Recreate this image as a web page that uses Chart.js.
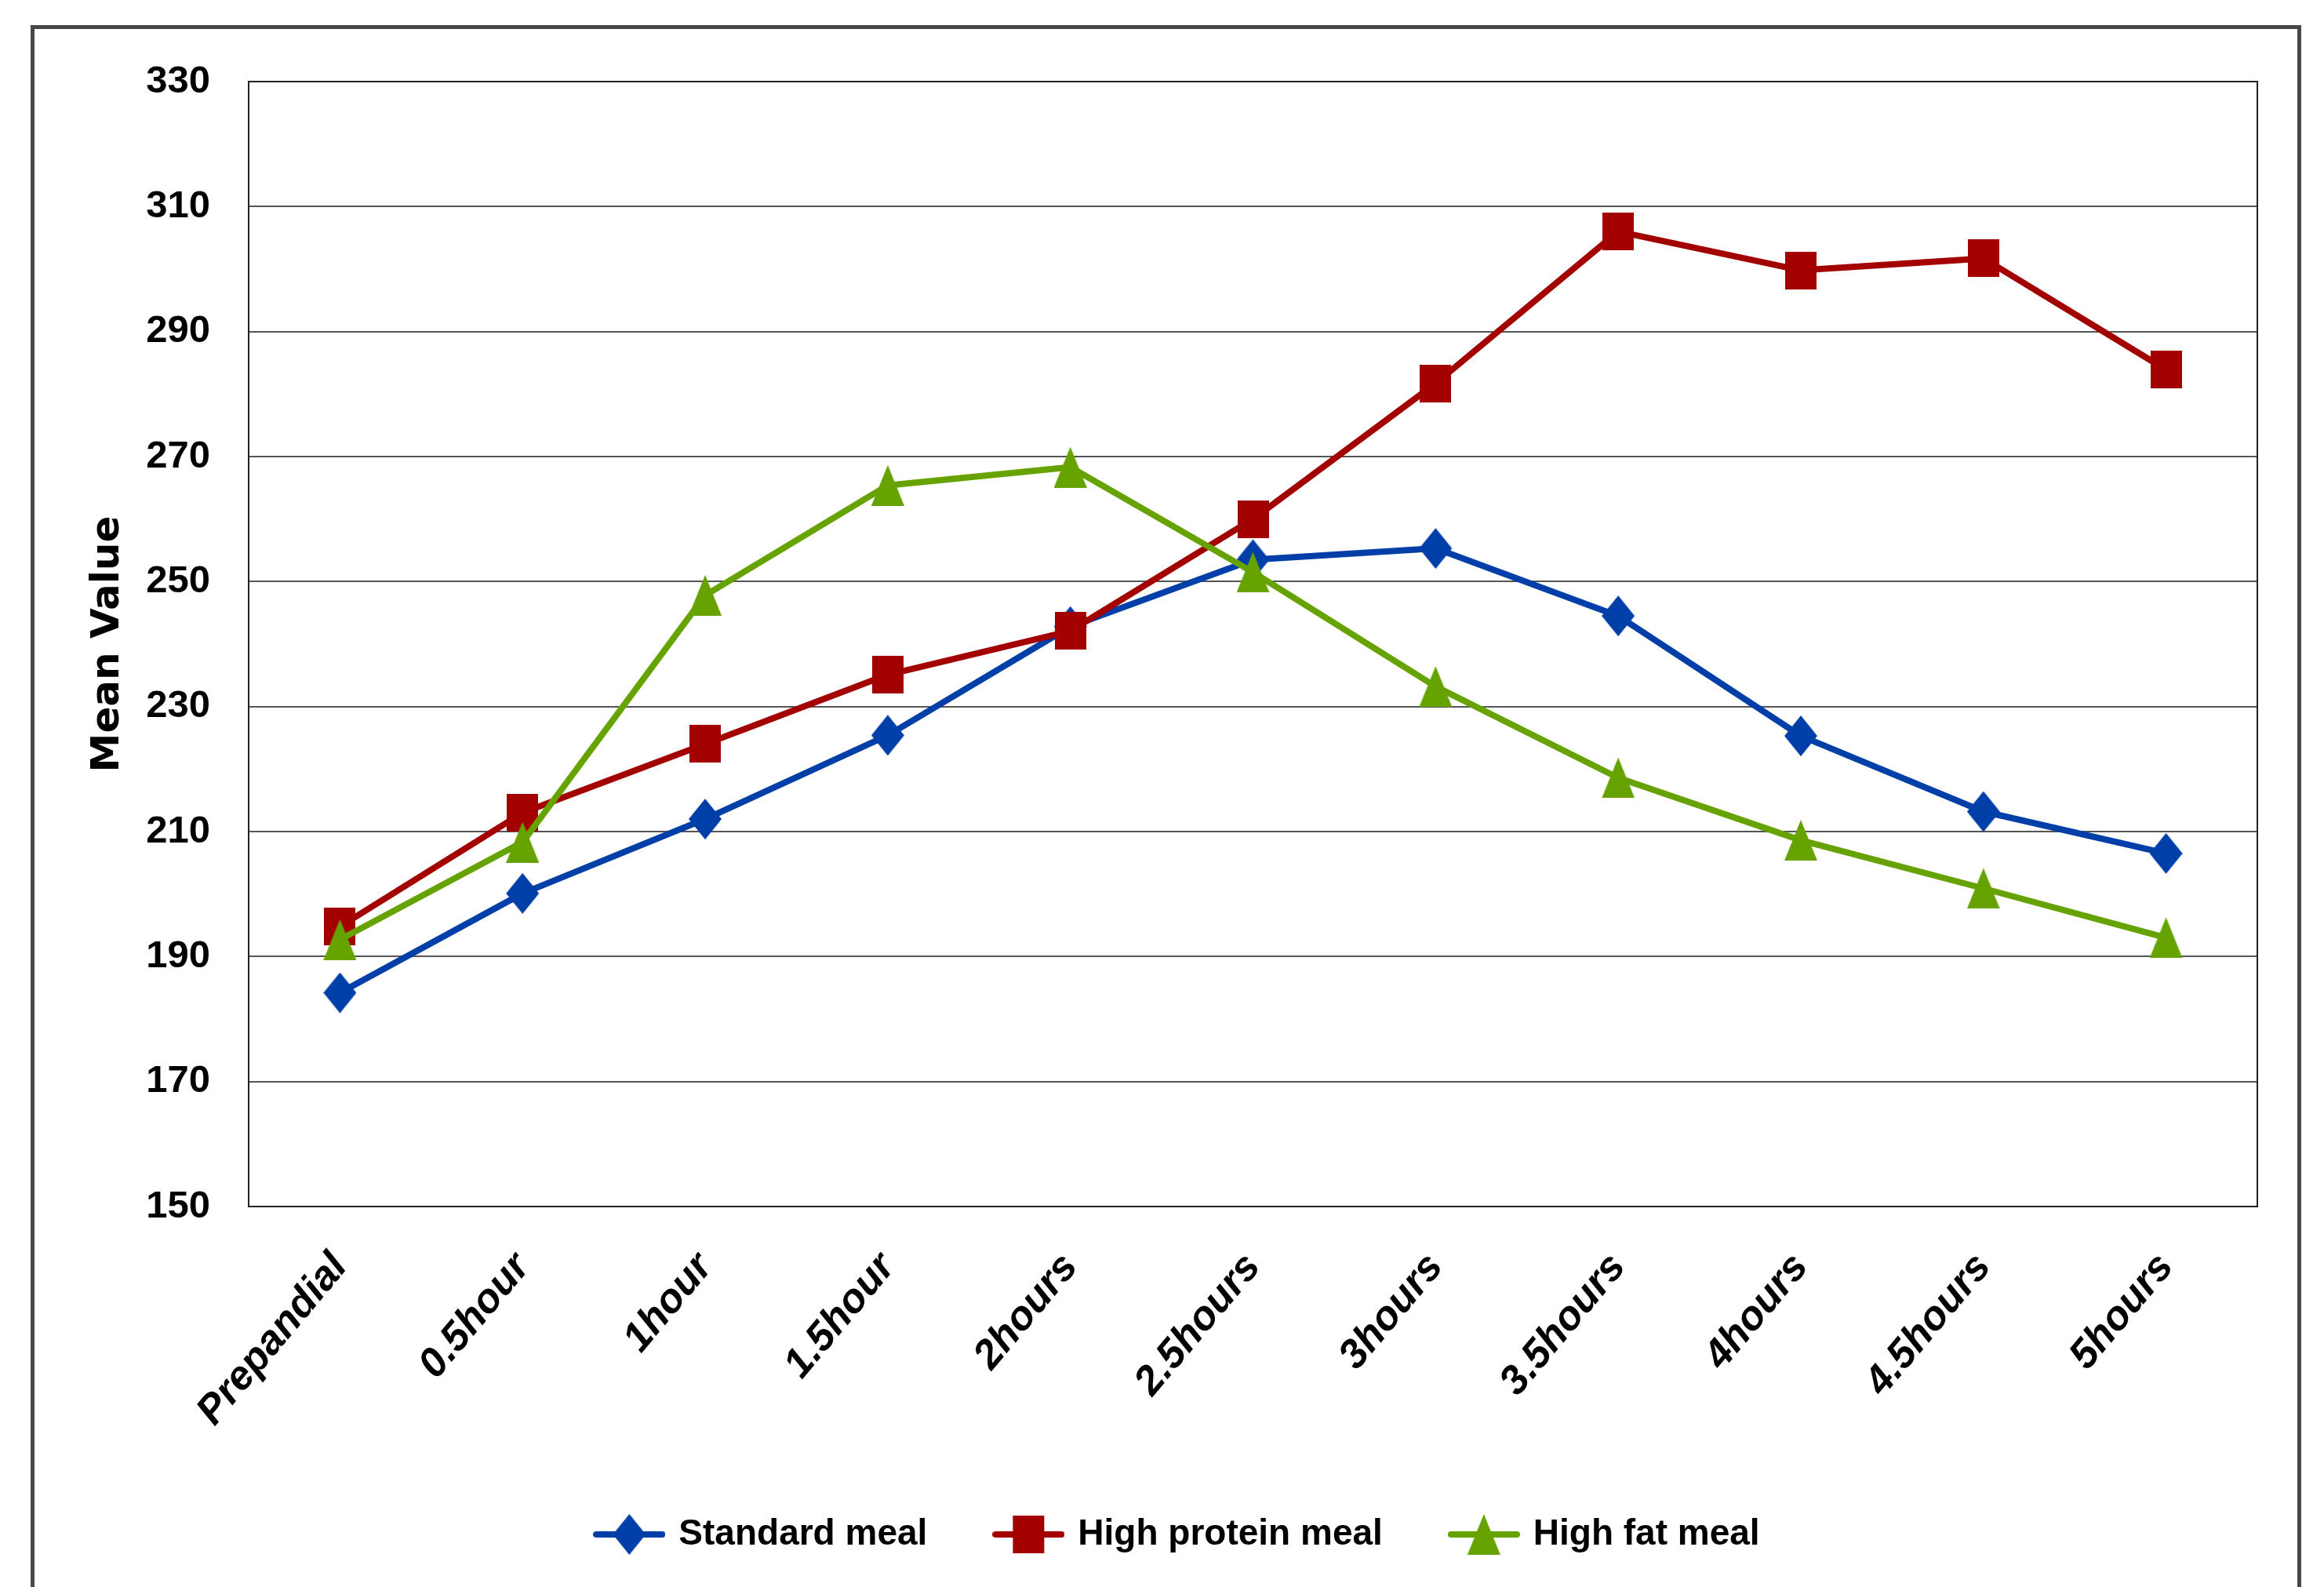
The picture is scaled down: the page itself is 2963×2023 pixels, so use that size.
<!DOCTYPE html>
<html>
<head>
<meta charset="utf-8">
<title>Mean Value by meal type</title>
<script src="https://cdn.jsdelivr.net/npm/chart.js@4.4.1/dist/chart.umd.min.js"></script>
<style>
  html, body { margin: 0; padding: 0; background: #ffffff; }
  #wrap { position: absolute; left: 0; top: 0; width: 2963px; height: 2023px; }
</style>
</head>
<body>
<div id="wrap"><canvas id="chart" width="2963" height="2023"></canvas></div>
<script>
// Time points after the meal
const categories = ['Prepandial', '0.5hour', '1hour', '1.5hour', '2hours', '2.5hours',
                    '3hours', '3.5hours', '4hours', '4.5hours', '5hours'];

// Mean values per meal type
const standardMeal    = [184.2, 200.1, 212.0, 225.4, 242.8, 253.5, 255.3, 244.5, 225.3, 213.2, 206.5];
const highProteinMeal = [194.8, 213.0, 224.0, 235.1, 242.1, 260.0, 281.7, 306.0, 299.8, 301.7, 283.9];
const highFatMeal     = [192.7, 208.3, 247.8, 265.4, 268.3, 251.5, 233.2, 218.6, 208.6, 200.9, 193.0];

const seriesNames = ['Standard meal', 'High protein meal', 'High fat meal'];
const yTicks = [150, 170, 190, 210, 230, 250, 270, 290, 310, 330];

const BLUE = '#003ea8';
const RED = '#a30000';
const GREEN = '#66a300';

// Marker glyphs drawn once onto small canvases
function makeMarker(shape, color, w, h) {
  const c = document.createElement('canvas');
  c.width = w; c.height = h;
  const g = c.getContext('2d');
  g.fillStyle = color;
  g.beginPath();
  if (shape === 'diamond') {
    g.moveTo(w / 2, 0); g.lineTo(w, h / 2); g.lineTo(w / 2, h); g.lineTo(0, h / 2);
  } else if (shape === 'square') {
    g.rect(0, 0, w, h);
  } else {
    g.moveTo(w / 2, 0); g.lineTo(w, h); g.lineTo(0, h);
  }
  g.closePath();
  g.fill();
  return c;
}

// Legend key: a short line segment with the marker in its middle
function makeLegendKey(marker, color, w, h) {
  const c = document.createElement('canvas');
  c.width = w; c.height = h;
  const g = c.getContext('2d');
  g.strokeStyle = color;
  g.lineWidth = 8;
  g.lineCap = 'round';
  g.beginPath();
  g.moveTo(4, h / 2); g.lineTo(w - 4, h / 2);
  g.stroke();
  g.drawImage(marker, (w - marker.width) / 2, (h - marker.height) / 2);
  return c;
}

const diamond = makeMarker('diamond', BLUE, 42, 52);
const square = makeMarker('square', RED, 40, 48);
const triangle = makeMarker('triangle', GREEN, 42, 52);
const legendKeys = [
  makeLegendKey(diamond, BLUE, 92, 52),
  makeLegendKey(square, RED, 92, 52),
  makeLegendKey(triangle, GREEN, 92, 52)
];

const TEXT_FONT = 'Liberation Sans, Arial, sans-serif';

// White page, outer frame and the plot-area rectangle
const framePlugin = {
  id: 'frame',
  beforeDraw(chart) {
    const g = chart.ctx;
    g.save();
    g.fillStyle = '#ffffff';
    g.fillRect(0, 0, chart.width, chart.height);
    g.strokeStyle = '#484848';
    g.lineWidth = 5;
    g.strokeRect(41.5, 34.5, chart.width - 73, chart.height + 100);
    g.restore();
  },
  beforeDatasetsDraw(chart) {
    const a = chart.chartArea;
    const g = chart.ctx;
    g.save();
    g.strokeStyle = '#222222';
    g.lineWidth = 2;
    g.strokeRect(a.left, a.top, a.right - a.left, a.bottom - a.top);
    g.restore();
  }
};

function lineDataset(label, data, color, marker, order) {
  return {
    label: label,
    data: data,
    borderColor: color,
    backgroundColor: color,
    borderWidth: 8,
    borderJoinStyle: 'round',
    borderCapStyle: 'round',
    tension: 0,
    pointStyle: marker,
    pointRadius: 26,
    pointHoverRadius: 26,
    order: order
  };
}

new Chart(document.getElementById('chart'), {
  type: 'line',
  data: {
    labels: categories,
    datasets: [
      lineDataset(seriesNames[0], standardMeal, BLUE, diamond, 2),
      lineDataset(seriesNames[1], highProteinMeal, RED, square, 1),
      lineDataset(seriesNames[2], highFatMeal, GREEN, triangle, 0)
    ]
  },
  options: {
    responsive: false,
    animation: false,
    devicePixelRatio: 1,
    layout: { padding: { top: 104, left: 128, right: 85, bottom: 34 } },
    plugins: {
      tooltip: { enabled: false },
      legend: {
        position: 'bottom',
        align: 'center',
        labels: {
          usePointStyle: true,
          pointStyleWidth: 80,
          padding: 89,
          color: '#000000',
          font: { family: TEXT_FONT, size: 46, weight: 'bold' },
          generateLabels(chart) {
            return chart.data.datasets.map((ds, i) => ({
              text: ds.label,
              pointStyle: legendKeys[i],
              fillStyle: ds.borderColor,
              strokeStyle: ds.borderColor,
              lineWidth: 0,
              hidden: false,
              datasetIndex: i,
              fontColor: '#000000'
            }));
          }
        }
      }
    },
    scales: {
      x: {
        type: 'category',
        offset: true,
        grid: { display: false, drawTicks: false },
        border: { display: false },
        ticks: {
          autoSkip: false,
          maxRotation: 50,
          minRotation: 50,
          padding: 48,
          color: '#000000',
          font: { family: TEXT_FONT, size: 52, weight: 'bold', style: 'italic' }
        },
        afterFit(scale) { scale.height = 306; }
      },
      y: {
        type: 'linear',
        min: 150,
        max: 330,
        afterBuildTicks(scale) { scale.ticks = yTicks.map(v => ({ value: v })); },
        grid: { color: '#555555', lineWidth: 2, drawTicks: false },
        border: { display: false },
        ticks: {
          padding: 49,
          color: '#000000',
          font: { family: TEXT_FONT, size: 49, weight: 'bold' }
        },
        title: {
          display: true,
          text: 'Mean Value',
          color: '#000000',
          padding: { top: -20, bottom: 0 },
          font: { family: 'DejaVu Sans, Verdana, sans-serif', size: 50, weight: 'bold' }
        },
        afterFit(scale) { scale.width = 189; }
      }
    }
  },
  plugins: [framePlugin]
});
</script>
</body>
</html>
